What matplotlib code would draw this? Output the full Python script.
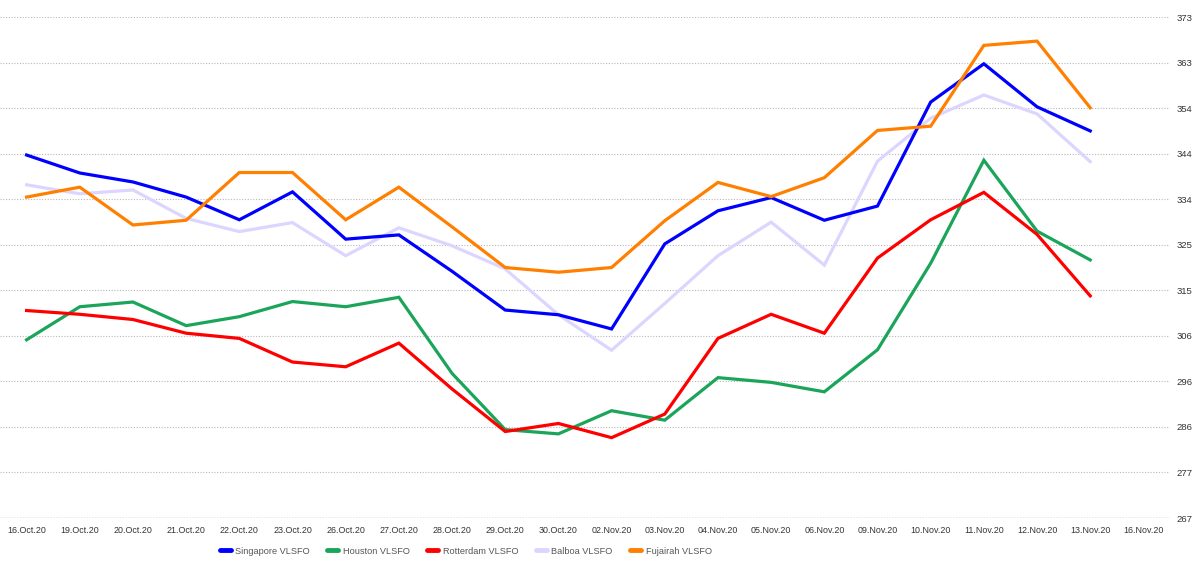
import matplotlib.pyplot as plt
import numpy as np

plt.rcParams['font.family'] = ['Liberation Sans', 'DejaVu Sans']

# dates on the category axis (last one has no data yet)
dates = ['16.Oct.20', '19.Oct.20', '20.Oct.20', '21.Oct.20', '22.Oct.20', '23.Oct.20',
         '26.Oct.20', '27.Oct.20', '28.Oct.20', '29.Oct.20', '30.Oct.20', '02.Nov.20',
         '03.Nov.20', '04.Nov.20', '05.Nov.20', '06.Nov.20', '09.Nov.20', '10.Nov.20',
         '11.Nov.20', '12.Nov.20', '13.Nov.20', '16.Nov.20']

singapore = [343.8, 340.0, 338.1, 334.9, 330.1, 336.0, 326.0, 326.9, 319.2, 311.0, 310.0,
             307.0, 325.0, 332.0, 334.8, 330.0, 333.0, 355.0, 363.1, 354.0, 348.9]
houston = [304.7, 311.7, 312.7, 307.7, 309.6, 312.8, 311.7, 313.7, 297.6, 285.7, 284.8,
           289.7, 287.7, 296.7, 295.7, 293.7, 302.6, 320.9, 342.7, 327.7, 321.6]
rotterdam = [310.9, 310.1, 309.0, 306.1, 305.0, 300.0, 299.0, 304.0, 294.3, 285.3, 287.0,
             284.0, 289.0, 305.0, 310.1, 306.1, 322.0, 330.1, 335.9, 327.0, 314.0]
balboa = [337.5, 335.6, 336.4, 330.4, 327.6, 329.5, 322.5, 328.4, 324.6, 319.7, 310.0,
          302.5, 312.4, 322.5, 329.6, 320.5, 342.5, 351.6, 356.5, 352.5, 342.4]
fujairah = [334.9, 337.0, 329.0, 330.0, 340.1, 340.1, 330.1, 337.0, 328.6, 320.0, 319.0,
            320.0, 329.9, 338.0, 335.0, 339.0, 349.0, 349.9, 367.0, 367.9, 353.8]

names = ['Singapore VLSFO', 'Houston VLSFO', 'Rotterdam VLSFO', 'Balboa VLSFO', 'Fujairah VLSFO']
series = [singapore, houston, rotterdam, balboa, fujairah]
colors = ['#0000ff', '#1aa55a', '#ff0000', '#dcd6ff', '#ff8000']
zorders = [4, 3, 5, 2, 6]

ymin, ymax = 267, 373

fig = plt.figure(figsize=(12, 5.67), dpi=100)
ax = fig.add_axes([0.0, 0.0864, 0.975, 0.8836])

x = np.arange(len(singapore))
lines = []
for name, s, c, z in zip(names, series, colors, zorders):
    ln, = ax.plot(x, s, color=c, lw=2.3, label=name, zorder=z, solid_joinstyle='miter')
    lines.append(ln)

ax.set_xlim(-0.5, len(dates) - 0.5)
ax.set_ylim(ymin, ymax)
ax.set_xticks(np.arange(len(dates)))
ax.set_xticklabels(dates, fontsize=6.4, color='#333333')

yt = np.linspace(ymin, ymax, 12)
ax.set_yticks(yt)
ax.set_yticklabels([str(int(round(v))) for v in yt], fontsize=6.8, color='#333333')
ax.yaxis.tick_right()
ax.tick_params(axis='both', length=0)
ax.tick_params(axis='y', pad=5)
ax.tick_params(axis='x', pad=6)

ax.grid(axis='y', linestyle=(0, (1, 1.5)), color='#b8b8b8', lw=0.8)
for sp in ax.spines.values():
    sp.set_visible(False)
ax.axhline(ymin, color='#999999', lw=1.0, linestyle=(0, (1, 1)), zorder=1)

leg = fig.legend(handles=lines, loc='center', bbox_to_anchor=(0.388, 0.028), ncol=5,
                 frameon=False, fontsize=6.6, handlelength=1.2, handletextpad=0.5,
                 columnspacing=1.9)
for t in leg.get_texts():
    t.set_color('#555555')
for h in leg.legend_handles:
    h.set_linewidth(3.5)
    h.set_solid_capstyle('round')

fig.savefig('out.png', dpi=100)
